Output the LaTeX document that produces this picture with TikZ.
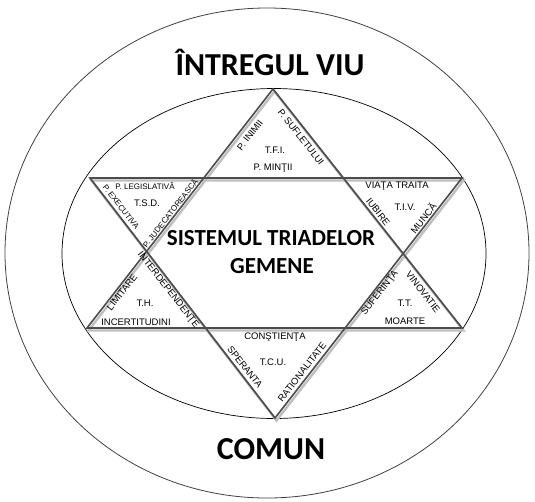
\documentclass[tikz,border=0pt]{standalone}
\usepackage{fontspec}
\setmainfont{Liberation Sans}
\newfontfamily\titlefont{Carlito}
\usetikzlibrary{positioning}

\tikzset{
  lbl/.style={font=\fontsize{9.5}{10}\selectfont, inner sep=0pt},
  lblsmall/.style={font=\fontsize{8}{9}\selectfont, inner sep=0pt},
  big/.style={font=\titlefont\bfseries\fontsize{32}{34}\selectfont, inner sep=0pt, anchor=base},
  mid/.style={font=\titlefont\bfseries\fontsize{23}{28}\selectfont, inner sep=0pt, anchor=base},
  staredge/.style={draw=black!70, line width=1.6pt, line join=miter},
  starshade/.style={draw=black!25, line width=2.4pt, line join=miter},
}

\begin{document}
\begin{tikzpicture}[x=1pt, y=-1pt]
	\useasboundingbox (0,0) rectangle (535,501);
	\draw[black!75, line width=0.8pt] (267,253) ellipse [x radius=262pt, y radius=245pt];
	\draw[black, line width=0.7pt] (274,253.5) ellipse [x radius=212pt, y radius=165pt];

	\coordinate (up) at (273,89);
	\coordinate (upl) at (87,328);
	\coordinate (upr) at (462,328);
	\coordinate (dnl) at (90,178);
	\coordinate (dnr) at (462,178);
	\coordinate (dn) at (275,418);

	\begin{scope}[transform canvas={xshift=1.5pt, yshift=-2.5pt}]
		\draw[starshade] (up) -- (upl) -- (upr) -- cycle;
		\draw[starshade] (dnl) -- (dnr) -- (dn) -- cycle;
	\end{scope}
	\draw[staredge] (up) -- (upl) -- (upr) -- cycle;
	\draw[staredge] (dnl) -- (dnr) -- (dn) -- cycle;

	\node[big] (whole) at (270,75) {ÎNTREGUL VIU};
	\node[big] (common) at (271,459) {COMUN};
	\node[mid] (system) at (271,245) {SISTEMUL TRIADELOR};
	\node[mid] (twins) at (272,273) {GEMENE};

	\node[lbl, rotate=52] (inimii) at (250,135) {P. INIMII};
	\node[lbl, rotate=-52] (suflet) at (301,137) {P. SUFLETULUI};
	\node[lbl] (tfi) at (275,150) {T.F.I.};
	\node[lbl] (mintii) at (273,168) {P. MINŢII};

	\node[lblsmall] (legis) at (145,186) {P. LEGISLATIVĂ};
	\node[lbl] (tsd) at (147,203) {T.S.D.};
	\node[lblsmall, rotate=-52] (exec) at (121,207) {P. EXECUTIVA};
	\node[lblsmall, rotate=52] (judec) at (170,213) {P. JUDECATOREASCĂ};

	\node[lbl] (viata) at (397,186) {VIAŢA TRAITA};
	\node[lbl] (tiv) at (405,207) {T.I.V.};
	\node[lbl, rotate=-52] (iubire) at (378,212) {IUBIRE};
	\node[lbl, rotate=52] (munca) at (423,218) {MUNCĂ};

	\node[lbl, rotate=52] (limit) at (122,292) {LIMITARE};
	\node[lbl, rotate=-52] (interd) at (168,290) {INTERDEPENDENŢE};
	\node[lbl] (th) at (145,303) {T.H.};
	\node[lbl] (incert) at (136,322) {INCERTITUDINI};

	\node[lbl, rotate=52] (suferinta) at (380,293) {SUFERINŢA};
	\node[lbl, rotate=-52] (vina) at (423,292) {VINOVATIE};
	\node[lbl] (tt) at (405,303) {T.T.};
	\node[lbl] (moarte) at (405,321) {MOARTE};

	\node[lbl] (constiinta) at (275,337) {CONŞTIENŢA};
	\node[lbl] (tcu) at (273,362) {T.C.U.};
	\node[lbl, rotate=-52] (speranta) at (245,367) {SPERANTA};
	\node[lbl, rotate=52] (ratiune) at (302,372) {RATIONALITATE};
\end{tikzpicture}
\end{document}
